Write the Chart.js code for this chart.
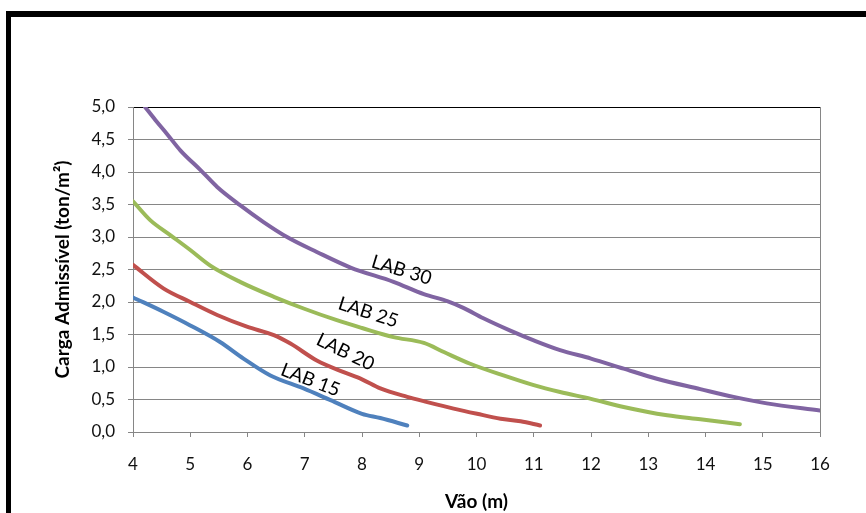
<!DOCTYPE html>
<html>
<head>
<meta charset="utf-8">
<script src="https://cdn.jsdelivr.net/npm/chart.js@4/dist/chart.umd.min.js"></script>
<style>
html,body{margin:0;padding:0;background:#fff;}
#wrap{width:866px;height:513px;position:relative;}
</style>
</head>
<body>
<div id="wrap"><canvas id="c" width="866" height="513"></canvas></div>
<script>
// ---- data ----
const seriesNames = ['LAB 15', 'LAB 20', 'LAB 25', 'LAB 30'];

const lab15X = [4.0, 4.53, 5.0, 5.52, 5.93, 6.40, 6.98, 7.45, 8.0, 8.32, 8.79];
const lab15Y = [2.07, 1.85, 1.64, 1.385, 1.13, 0.87, 0.67, 0.49, 0.28, 0.215, 0.10];

const lab20X = [4.0, 4.53, 5.0, 5.47, 5.99, 6.46, 6.75, 7.21, 7.68, 8.0, 8.32, 8.79, 9.14, 9.60, 10.01, 10.42, 10.77, 11.11];
const lab20Y = [2.57, 2.21, 2.0, 1.80, 1.62, 1.49, 1.36, 1.10, 0.92, 0.81, 0.67, 0.54, 0.46, 0.36, 0.28, 0.205, 0.165, 0.10];

const lab25X = [4.0, 4.30, 4.65, 5.0, 5.35, 5.87, 6.46, 6.98, 7.56, 8.0, 8.55, 9.08, 9.43, 9.89, 10.47, 11.0, 11.46, 12.0, 12.57, 13.33, 13.91, 14.6];
const lab25Y = [3.55, 3.26, 3.03, 2.80, 2.56, 2.31, 2.08, 1.90, 1.72, 1.60, 1.46, 1.37, 1.23, 1.05, 0.87, 0.72, 0.615, 0.51, 0.385, 0.257, 0.195, 0.12];

const lab30X = [4.21, 4.39, 4.59, 4.83, 5.18, 5.47, 5.87, 6.28, 6.69, 7.21, 7.80, 8.55, 9.08, 9.50, 9.77, 10.12, 10.59, 11.0, 11.46, 12.0, 12.57, 13.15, 13.91, 14.49, 15.07, 16.0];
const lab30Y = [5.0, 4.80, 4.59, 4.33, 4.03, 3.77, 3.49, 3.23, 3.0, 2.77, 2.53, 2.31, 2.12, 2.01, 1.91, 1.75, 1.56, 1.41, 1.26, 1.13, 0.975, 0.82, 0.66, 0.54, 0.44, 0.33];

const xTickLabels = ['4','5','6','7','8','9','10','11','12','13','14','15','16'];
const yTickLabels = ['0,0','0,5','1,0','1,5','2,0','2,5','3,0','3,5','4,0','4,5','5,0'];

// label anchors (data coordinates) and rotation
const labelX = [7.10, 7.71, 8.11, 8.69];
const labelY = [0.80, 1.23, 1.84, 2.49];
const labelAngle = [21, 26, 18, 17];

const colors = ['#4F81BD', '#C0504D', '#9BBB59', '#8064A2'];

function pts(xs, ys){ return xs.map((x,i)=>({x:x, y:ys[i]})); }

const allX = [lab15X, lab20X, lab25X, lab30X];
const allY = [lab15Y, lab20Y, lab25Y, lab30Y];

const datasets = seriesNames.map((n,i)=>({
  label: n,
  data: pts(allX[i], allY[i]),
  borderColor: colors[i],
  backgroundColor: colors[i],
  borderWidth: 4,
  pointRadius: 0,
  cubicInterpolationMode: 'monotone',
  borderCapStyle: 'round',
  borderJoinStyle: 'round',
  fill: false
}));

const framePlugin = {
  id: 'frame',
  beforeDraw(chart){
    const ctx = chart.ctx;
    ctx.save();
    ctx.fillStyle = '#fff';
    ctx.fillRect(0,0,chart.width,chart.height);
    ctx.fillStyle = '#000';
    ctx.fillRect(6, 11, 5, chart.height - 11);
    ctx.fillRect(6, 11, chart.width - 6, 6);
    ctx.restore();
  }
};

const labelPlugin = {
  id: 'seriesLabels',
  afterDatasetsDraw(chart){
    const ctx = chart.ctx;
    const xs = chart.scales.x, ys = chart.scales.y;
    ctx.save();
    ctx.font = '19px Lato, "Open Sans", sans-serif';
    ctx.fillStyle = '#000';
    ctx.textAlign = 'center';
    ctx.textBaseline = 'middle';
    seriesNames.forEach((n,i)=>{
      const px = xs.getPixelForValue(labelX[i]);
      const py = ys.getPixelForValue(labelY[i]);
      ctx.save();
      ctx.translate(px, py);
      ctx.rotate(labelAngle[i] * Math.PI / 180);
      ctx.fillText(n, 0, 0);
      ctx.restore();
    });
    ctx.restore();
  }
};

new Chart(document.getElementById('c'), {
  type: 'line',
  data: { datasets: datasets },
  options: {
    responsive: false,
    devicePixelRatio: 1,
    animation: false,
    layout: { padding: { left: 51, top: 107, right: 46, bottom: 0 } },
    plugins: { legend: { display: false }, tooltip: { enabled: false } },
    scales: {
      x: {
        type: 'linear',
        min: 4, max: 16,
        afterFit(scale){ scale.height = 81; },
        border: { display: true, color: '#868686', width: 1 },
        grid: {
          drawOnChartArea: true,
          color: (c) => (c.tick && c.tick.value === 16) ? '#868686' : 'rgba(0,0,0,0)',
          tickColor: '#868686',
          tickLength: 5,
          lineWidth: 1
        },
        ticks: {
          stepSize: 1,
          padding: 17,
          color: '#111',
          font: { family: 'Lato, "Open Sans", sans-serif', size: 17 },
          callback: (v) => { const i = Math.round(v - 4); return xTickLabels[i] !== undefined ? xTickLabels[i] : ''; }
        },
        title: {
          display: true,
          text: 'Vão (m)',
          color: '#000',
          padding: { top: 0, bottom: 0 },
          font: { family: 'Lato, "Open Sans", sans-serif', size: 19, weight: 'bold' }
        }
      },
      y: {
        type: 'linear',
        min: 0, max: 5,
        afterFit(scale){ scale.width = 82; },
        border: { display: true, color: '#868686', width: 1 },
        grid: {
          color: (c) => (c.tick && c.tick.value === 5) ? '#000' : '#868686',
          tickColor: '#868686',
          tickLength: 5,
          lineWidth: 1
        },
        ticks: {
          stepSize: 0.5,
          padding: 13,
          color: '#111',
          font: { family: 'Lato, "Open Sans", sans-serif', size: 17 },
          callback: (v) => { const i = Math.round(v * 2); return yTickLabels[i] !== undefined ? yTickLabels[i] : ''; }
        },
        title: {
          display: true,
          text: 'Carga Admissível (ton/m²)',
          color: '#000',
          padding: { top: 0, bottom: 0 },
          font: { family: 'Lato, "Open Sans", sans-serif', size: 19, weight: 'bold' }
        }
      }
    }
  },
  plugins: [framePlugin, labelPlugin]
});
</script>
</body>
</html>
